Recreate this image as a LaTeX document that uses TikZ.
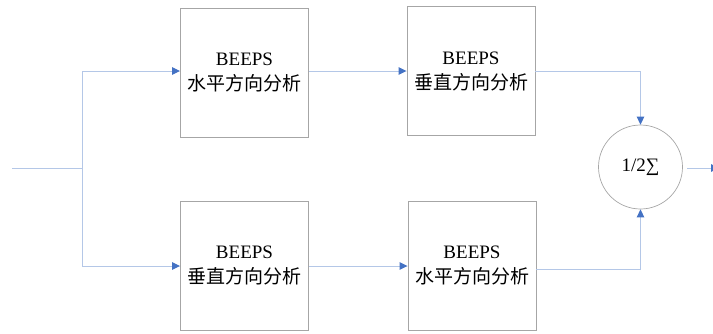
\documentclass[tikz,border=0pt]{standalone}
\usepackage{fontspec}
\setmainfont{Liberation Serif}
\newfontfamily\cjk{Noto Sans CJK SC}
\usetikzlibrary{arrows.meta}
\definecolor{wire}{HTML}{B4C7E7}
\definecolor{tipblue}{HTML}{4472C4}
\definecolor{frame}{HTML}{A6A6A6}
\tikzset{
  stage/.style={draw=frame, line width=0.9pt, minimum width=128pt, minimum height=129pt,
    inner sep=0pt, align=center, font=\fontsize{19}{25}\selectfont},
  summer/.style={circle, draw=frame, line width=0.7pt, minimum size=84pt, inner sep=0pt,
    font=\fontsize{19}{22}\selectfont},
  flow/.style={draw=wire, line width=1pt,
    -{Triangle[length=8pt,width=7.5pt,color=tipblue,fill=tipblue]}},
  plain/.style={draw=wire, line width=1pt}
}
\begin{document}
\begin{tikzpicture}[x=1pt,y=-1pt]
  \useasboundingbox (0,0) rectangle (713,333);
  % filter stages
  \node[stage] (h1) at (244.5,72.5) {BEEPS\\{\cjk 水平方向分析}};
  \node[stage] (v1) at (471,71) {BEEPS\\{\cjk 垂直方向分析}};
  \node[stage] (v2) at (244.5,265.5) {BEEPS\\{\cjk 垂直方向分析}};
  \node[stage] (h2) at (472,265.5) {BEEPS\\{\cjk 水平方向分析}};
  % averaging node
  \node[summer] (sum) at (640.5,167) {1/2∑};
  % input split
  \coordinate (in) at (12,168);
  \coordinate (split) at (82,168);
  \coordinate (upper) at (82,71);
  \coordinate (lower) at (82,266);
  \coordinate (out) at (719,168);
  \path[plain] (in) -- (split);
  \path[plain] (upper) -- (lower);
  \path[flow] (upper) -- (upper -| h1.west);
  \path[flow] (lower) -- (lower -| v2.west);
  % stage to stage
  \path[flow] (h1.east |- upper) -- (upper -| v1.west);
  \path[flow] (v2.east |- lower) -- (lower -| h2.west);
  % into the sum
  \path[flow] (v1.east |- 0,71) -| (sum.north);
  \path[flow] (h2.east |- 0,269) -| (sum.south);
  \path[flow] (687,168) -- (out);
\end{tikzpicture}
\end{document}
